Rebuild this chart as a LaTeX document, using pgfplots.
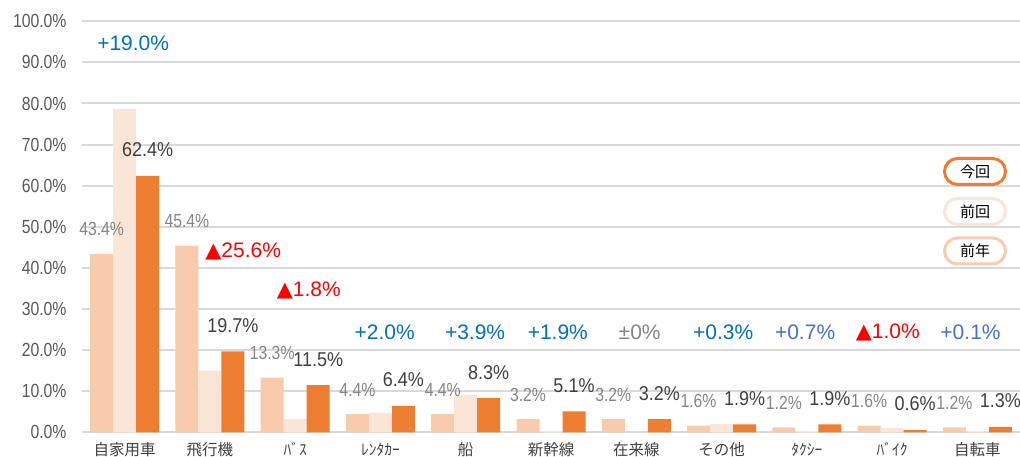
\documentclass[border=0pt]{standalone}
\usepackage{pgfplots}
\pgfplotsset{compat=1.18}
\usepackage{pgfplotstable}
\usepackage{fontspec}
\setmainfont{Liberation Sans}
\newfontfamily\jp{Noto Sans CJK JP}
\newfontfamily\narrowC[FakeStretch=0.9]{Liberation Sans}
\newfontfamily\narrowB[FakeStretch=0.83]{Liberation Sans}
\newfontfamily\dejavu{DejaVu Sans}
\newcommand{\tri}{{\dejavu\fontsize{21}{21}\selectfont ▲}}
\definecolor{cur}{HTML}{ED7D31}
\definecolor{prev}{HTML}{FBE5D6}
\definecolor{prevyr}{HTML}{F8CBAD}
\definecolor{gridc}{HTML}{D9D9D9}
\definecolor{tickc}{HTML}{595959}
\definecolor{lblc}{HTML}{404040}
\definecolor{lbl2}{HTML}{858585}
\definecolor{blueA}{HTML}{0070C0}
\definecolor{blueB}{HTML}{4472C4}

\pgfplotstableread{
x y
0 43.4
1 45.4
2 13.3
3 4.4
4 4.4
5 3.2
6 3.2
7 1.6
8 1.2
9 1.6
10 1.2
}\prevyear

\pgfplotstableread{
x y
0 78.6
1 15.0
2 3.2
3 4.7
4 9.1
5 0.3
6 0.0
7 2.0
8 0.3
9 1.0
10 0.3
}\prevtime

\pgfplotstableread{
x y
0 62.4
1 19.7
2 11.5
3 6.4
4 8.3
5 5.1
6 3.2
7 1.9
8 1.9
9 0.6
10 1.3
}\current

\begin{document}
\begin{tikzpicture}
\useasboundingbox (-82pt,-24.7pt) rectangle (938pt,432.3pt);
\begin{axis}[
  at={(0,0)}, anchor=south west,
  scale only axis, width=938pt, height=411pt,
  xmin=-0.5, xmax=10.5, ymin=0, ymax=100,
  ybar=0pt, bar width=23pt,
  axis line style={draw=none}, tick style={draw=none}, major tick length=0pt,
  ymajorgrids, grid style={gridc, line width=2pt},
  ytick={0,10,...,100},
  yticklabel={\pgfmathprintnumber[fixed,fixed zerofill,precision=1,assume math mode=true]{\tick}\%},
  yticklabel style={font=\fontsize{19}{19}\selectfont\narrowB, text=tickc, anchor=east, inner sep=0pt, xshift=-15.3pt},
  xtick={0,...,10},
  xticklabels={自家用車,飛行機,ﾊﾞｽ,ﾚﾝﾀｶｰ,船,新幹線,在来線,その他,ﾀｸｼｰ,ﾊﾞｲｸ,自転車},
  xticklabel style={font=\fontsize{15.5}{16}\selectfont\jp, text=lblc, anchor=base, inner sep=0pt, yshift=-23.5pt},
  clip=false,
]
\addplot[fill=prevyr, draw=none,
  nodes near coords={\fontsize{19}{19}\selectfont\narrowB\pgfmathprintnumber[fixed,fixed zerofill,precision=1,assume math mode=true]{\pgfplotspointmeta}\%},
  every node near coord/.append style={text=lbl2, anchor=base, inner sep=0pt, yshift=18pt}]
  table {\prevyear};
\addplot[fill=prev, draw=none] table {\prevtime};
\addplot[fill=cur, draw=none,
  nodes near coords={\fontsize{20}{20}\selectfont\narrowC\pgfmathprintnumber[fixed,fixed zerofill,precision=1,assume math mode=true]{\pgfplotspointmeta}\%},
  every node near coord/.append style={text=lblc, anchor=base, inner sep=0pt, yshift=19pt}]
  table {\current};

\begin{scope}[every node/.style={font=\fontsize{21}{21}\selectfont, inner sep=0pt}]
\node[text=blueA] at (axis cs:0.1,94.7) {+19.0\%};
\node[text=red] at (axis cs:1.39,44.1) {\tri25.6\%};
\node[text=red] at (axis cs:2.16,34.6) {\tri1.8\%};
\node[text=blueA] at (axis cs:3.05,24.3) {+2.0\%};
\node[text=blueA] at (axis cs:4.11,24.3) {+3.9\%};
\node[text=blueA] at (axis cs:5.08,24.3) {+1.9\%};
\node[text=lbl2] at (axis cs:6.04,24.3) {±0\%};
\node[text=blueA] at (axis cs:7.02,24.3) {+0.3\%};
\node[text=blueB] at (axis cs:7.98,24.3) {+0.7\%};
\node[text=red] at (axis cs:8.95,24.3) {\tri1.0\%};
\node[text=blueB] at (axis cs:9.92,24.3) {+0.1\%};
\end{scope}
\end{axis}
\begin{scope}[every node/.style={line width=3pt, rounded corners=13pt, minimum width=61pt, minimum height=26pt, inner sep=0pt, fill=white, font=\fontsize{15}{15}\selectfont\jp, text=black}]
\node[draw=cur] at (893pt,260.8pt) {今回};
\node[draw=prev] at (893pt,220.8pt) {前回};
\node[draw=prevyr] at (893pt,181.3pt) {前年};
\end{scope}
\end{tikzpicture}
\end{document}
